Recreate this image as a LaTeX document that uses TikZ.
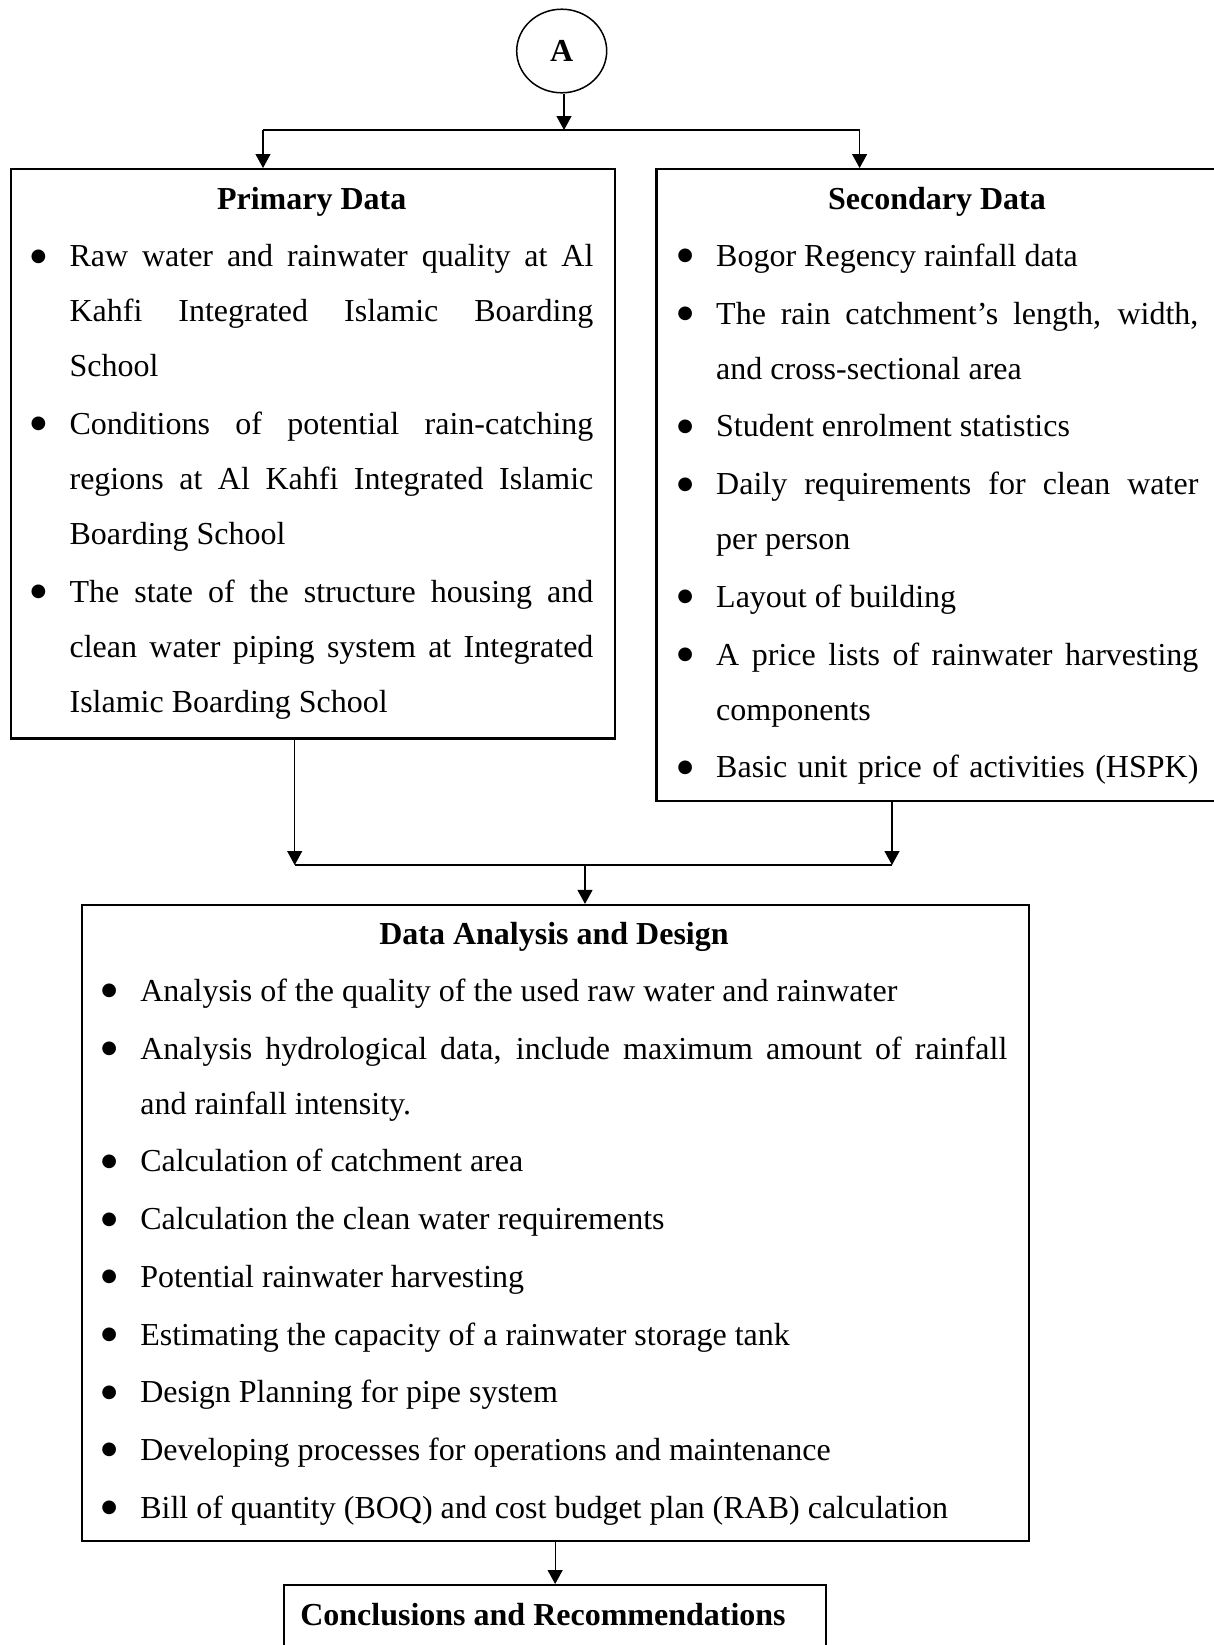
\documentclass[tikz,border=0pt]{standalone}
\usepackage{fontspec}
\setmainfont{Liberation Serif}
\newfontfamily\bulfont{DejaVu Sans}
\usetikzlibrary{arrows.meta,shapes.geometric}
\newcommand\nsp{\spaceskip=.25em\relax\xspaceskip=.25em\relax}
\newcommand\jst[2]{\leavevmode\hbox to #1{\spaceskip=.25em plus 1fil\relax\xspaceskip=.25em plus 1fil\relax #2}}
\newcommand\bul{\leavevmode\nsp\llap{\makebox[31pt]{\raisebox{2.8pt}{\bulfont\fontsize{9}{9}\selectfont ●}}}}
\tikzset{
  box/.style={draw, line width=1.1pt, inner sep=0pt, anchor=north west, rectangle},
  conn/.style={line width=0.6pt},
  arr/.style={conn, -{Triangle[length=7pt,width=7.5pt]}},
  ttl/.style={font=\fontsize{16}{27.5}\selectfont\bfseries, anchor=base, inner sep=0pt},
  itm/.style={font=\fontsize{16}{27.5}\selectfont, anchor=base west, inner sep=0pt, align=left, text width=#1},
}
\begin{document}
\begin{tikzpicture}[x=0.5pt,y=-0.5pt]
\useasboundingbox (0,0) rectangle (1214,1645);
% circle A
\node[ellipse, draw, line width=0.75pt, minimum width=45pt, minimum height=41.8pt, inner sep=0pt,
      font=\fontsize{16}{20}\selectfont\bfseries] (A) at (561.7,51) {A};
% boxes
\node[box, minimum width=302.25pt, minimum height=284.7pt] (P) at (9.5,168) {};
\node[box, minimum width=283.3pt, minimum height=315.8pt] (S) at (655.4,168) {};
\node[box, minimum width=473.55pt, minimum height=318.05pt] (D) at (80.5,903.9) {};
\node[box, minimum width=271.25pt, minimum height=45pt] (C) at (282.5,1584) {};
% top connectors
\coordinate (tl) at (263,130);
\coordinate (tr) at (859.6,130);
\coordinate (ta) at (564,130);
\draw[arr] (ta |- A.south) -- (ta);
\draw[conn] (tl) -- (tr);
\draw[arr] (tl) -- (tl |- P.north);
\draw[arr] (tr) -- (tr |- S.north);
% merge connectors
\coordinate (ml) at (294.7,865);
\coordinate (mr) at (892,865);
\coordinate (mc) at (585,865);
\draw[arr] (ml |- P.south) -- (ml);
\draw[arr] (mr |- S.south) -- (mr);
\draw[conn] (ml) -- (mr);
\draw[arr] (mc) -- (mc |- D.north);
\draw[arr] (D.south) -- (D.south |- C.north);
% primary
\node[ttl] (Pt) at (311.7,209) {Primary Data};
\node[itm=270pt] (P1) at (69.2,266.7) {\bul\jst{261.9pt}{Raw water and rainwater quality at Al}\\ \jst{261.9pt}{Kahfi Integrated Islamic Boarding}\\ School};
\node[itm=270pt] (P2) at (69.2,434.4) {\bul\jst{261.9pt}{Conditions of potential rain-catching}\\ \jst{261.9pt}{regions at Al Kahfi Integrated Islamic}\\ Boarding School};
\node[itm=270pt] (P3) at (69.2,602.1) {\bul\jst{261.9pt}{The state of the structure housing and}\\ \jst{261.9pt}{clean water piping system at Integrated}\\ Islamic Boarding School};
% secondary
\node[ttl] (St) at (937,209) {Secondary Data};
\node[itm=250pt] (S1) at (715.8,266.5) {\bul Bogor Regency rainfall data};
\node[itm=250pt] (S2) at (715.8,324.2) {\bul\jst{241.1pt}{The rain catchment’s length, width,}\\ and cross-sectional area};
\node[itm=250pt] (S3) at (715.8,436.9) {\bul Student enrolment statistics};
\node[itm=250pt] (S4) at (715.8,494.6) {\bul\jst{241.1pt}{Daily requirements for clean water}\\ per person};
\node[itm=250pt] (S5) at (715.8,607.3) {\bul Layout of building};
\node[itm=250pt] (S6) at (715.8,665) {\bul\jst{241.1pt}{A price lists of rainwater harvesting}\\ components};
\node[itm=250pt] (S7) at (715.8,777.7) {\bul\jst{241.1pt}{Basic unit price of activities (HSPK)}};
% data analysis
\node[ttl] (Dt) at (554,944) {Data Analysis and Design};
\node[itm=440pt] (D1) at (139.9,1001.5) {\bul Analysis of the quality of the used raw water and rainwater};
\node[itm=440pt] (D2) at (139.9,1059.2) {\bul\jst{433.5pt}{Analysis hydrological data, include maximum amount of rainfall}\\ and rainfall intensity.};
\node[itm=440pt] (D3) at (139.9,1171.9) {\bul Calculation of catchment area};
\node[itm=440pt] (D4) at (139.9,1229.6) {\bul Calculation the clean water requirements};
\node[itm=440pt] (D5) at (139.9,1287.3) {\bul Potential rainwater harvesting};
\node[itm=440pt] (D6) at (139.9,1345) {\bul Estimating the capacity of a rainwater storage tank};
\node[itm=440pt] (D7) at (139.9,1402.7) {\bul Design Planning for pipe system};
\node[itm=440pt] (D8) at (139.9,1460.4) {\bul Developing processes for operations and maintenance};
\node[itm=440pt] (D9) at (139.9,1518.1) {\bul Bill of quantity (BOQ) and cost budget plan (RAB) calculation};
% conclusions
\node[ttl] (Ct) at (543,1625) {Conclusions and Recommendations};
\end{tikzpicture}
\end{document}
